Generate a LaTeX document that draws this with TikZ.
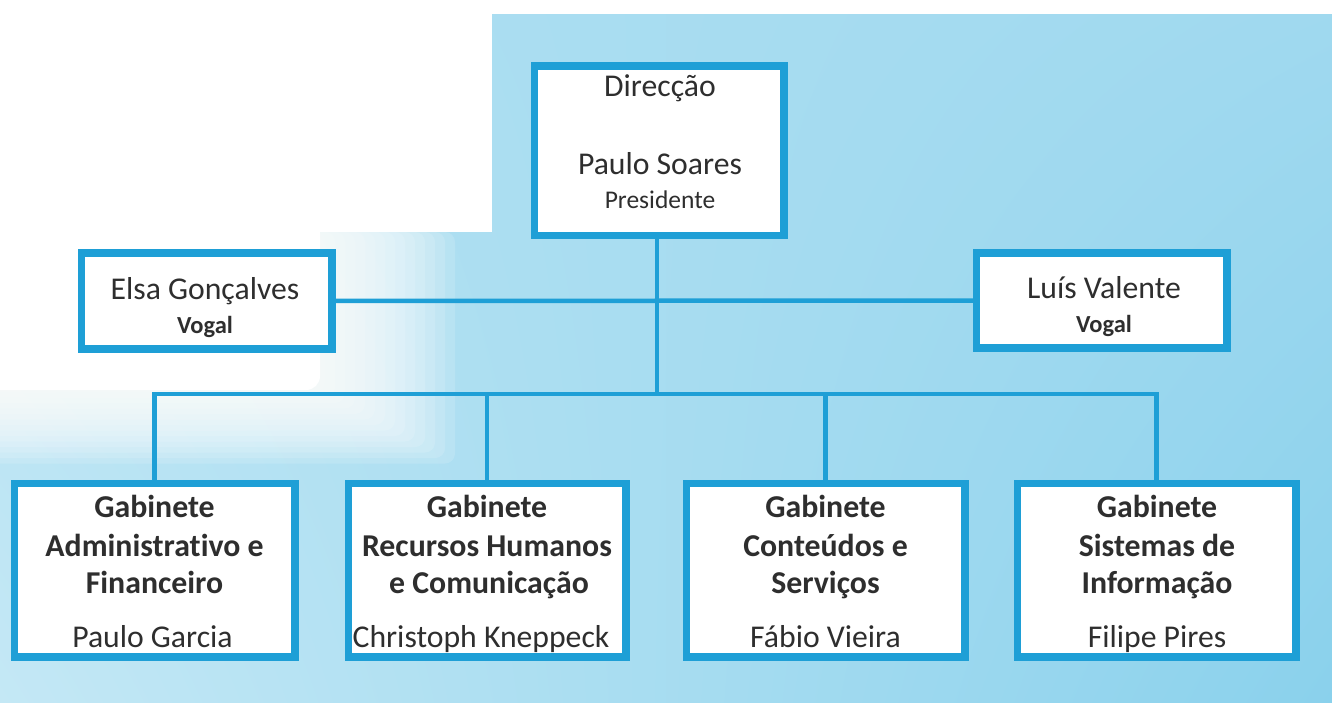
\documentclass[tikz,border=0pt]{standalone}
\usepackage{fontspec}
\setmainfont{Carlito}[Ligatures=NoCommon]
\usetikzlibrary{shadings}
\definecolor{bxblue}{HTML}{1E9FD6}
\definecolor{txt}{HTML}{2E2E2E}
\definecolor{bgUL}{HTML}{B0E0F2}
\definecolor{bgUR}{HTML}{A0D9EF}
\definecolor{bgLL}{HTML}{C4E8F5}
\definecolor{bgLR}{HTML}{8AD1EC}
\tikzset{
  box/.style={draw=bxblue, line width=5pt, fill=white, inner sep=0pt, rectangle},
  conn/.style={draw=bxblue, line width=4.5pt, line join=miter},
  big/.style={font=\fontsize{31.7}{37}\selectfont, text=txt, anchor=base, inner sep=0pt},
  bigb/.style={big, font=\bfseries\fontsize{31.8}{37}\selectfont},
  small/.style={font=\fontsize{25.5}{30}\selectfont, text=txt, anchor=base, inner sep=0pt},
  smallb/.style={small, font=\bfseries\fontsize{24.5}{30}\selectfont},
}
\begin{document}
\begin{tikzpicture}[x=1pt, y=-1pt]
\useasboundingbox (0,0) rectangle (1332,703);
% background
\shade[upper left=bgUL, upper right=bgUR, lower left=bgLL, lower right=bgLR] (0,0) rectangle (1332,703);
\fill[white] (0,0) rectangle (1332,14);
\fill[white] (0,0) rectangle (492,232);
\foreach \d in {0,10,...,130}{
  \fill[white, opacity=0.14, rounded corners=10pt] (-20,232) rectangle (325+\d,392+0.55*\d);
}
\fill[white, rounded corners=14pt] (-20,220) rectangle (320,390);

% boxes
\node[box, minimum width=247pt, minimum height=167pt] (top) at (659,151) {};
\node[box, minimum width=248pt, minimum height=93pt] (elsa) at (206.5,301) {};
\node[box, minimum width=248pt, minimum height=92pt] (luis) at (1101.5,300.5) {};
\node[box, minimum width=278pt, minimum height=171pt] (b1) at (154.5,570) {};
\node[box, minimum width=275pt, minimum height=171pt] (b2) at (487,570) {};
\node[box, minimum width=276pt, minimum height=171pt] (b3) at (825.5,570) {};
\node[box, minimum width=276pt, minimum height=171pt] (b4) at (1156.5,570) {};

% connectors
\coordinate (bus) at (657,394);
\draw[conn] (top.south -| bus) -- (bus);
\draw[conn] (elsa.east) -- (luis.west);
\draw[conn] (b1.north) -- (b1.north |- bus) -- (b4.north |- bus) -- (b4.north);
\draw[conn] (b2.north |- bus) -- (b2.north);
\draw[conn] (b3.north |- bus) -- (b3.north);

% redraw box borders over line ends
\foreach \n in {top,elsa,luis,b1,b2,b3,b4}{
  \draw[draw=bxblue, line width=5pt] (\n.north west) rectangle (\n.south east);
}

% texts
\node[big] (t1) at (660,97) {Direcção};
\node[big] (t2) at (660,175) {Paulo Soares};
\node[small] (t3) at (660,209) {Presidente};

\node[big] (e1) at (205,299) {Elsa Gonçalves};
\node[smallb] (e2) at (205,333) {Vogal};
\node[big] (l1) at (1104,298) {Luís Valente};
\node[smallb] (l2) at (1104,332) {Vogal};

\node[bigb] (a1) at (154.5,517) {Gabinete};
\node[bigb] (a2) at (154.5,556) {Administrativo e};
\node[bigb] (a3) at (154.5,593) {Financeiro};
\node[big]  (a4) at (152.5,647) {Paulo Garcia};

\node[bigb] (r1) at (487,517) {Gabinete};
\node[bigb] (r2) at (487,556) {Recursos Humanos};
\node[bigb] (r3) at (489,593) {e Comunicação};
\node[big]  (r4) at (481,647) {Christoph Kneppeck};

\node[bigb] (c1) at (825.5,517) {Gabinete};
\node[bigb] (c2) at (825.5,556) {Conteúdos e};
\node[bigb] (c3) at (825.5,593) {Serviços};
\node[big]  (c4) at (825.5,647) {Fábio Vieira};

\node[bigb] (s1) at (1157,517) {Gabinete};
\node[bigb] (s2) at (1157,556) {Sistemas de};
\node[bigb] (s3) at (1157,593) {Informação};
\node[big]  (s4) at (1157,647) {Filipe Pires};
\end{tikzpicture}
\end{document}
